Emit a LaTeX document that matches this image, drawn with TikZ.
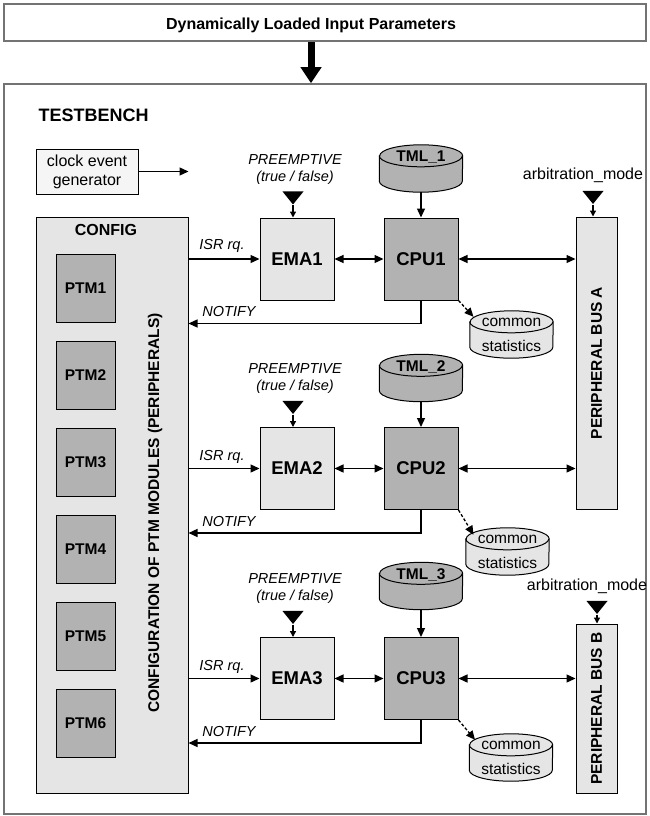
\documentclass[tikz,border=0pt]{standalone}
\usepackage{fontspec}
\setmainfont{Liberation Sans}
\usetikzlibrary{arrows.meta,positioning,shapes.geometric,backgrounds}

% drum outline round a named node: #1 node, #2 fill
\newcommand{\drum}[2]{%
  \filldraw[line width=1pt, fill=#2]
    ([yshift=-11pt]#1.north west) -- ([yshift=11pt]#1.south west)
    arc[start angle=180, end angle=360, x radius=41.5pt, y radius=11pt]
    -- ([yshift=-11pt]#1.north east)
    arc[start angle=0, end angle=180, x radius=41.5pt, y radius=11pt] -- cycle;
  \draw[line width=1pt] ([yshift=-11pt]#1.north west)
    arc[start angle=180, end angle=360, x radius=41.5pt, y radius=11pt];}

\begin{document}
\begin{tikzpicture}[
  x=1pt, y=-1pt,
  >={Triangle[length=9pt,width=8pt]},
  frame/.style={draw=black!55, line width=1.5pt, inner sep=0pt},
  box/.style={draw, line width=1pt, fill=black!10, align=center, inner sep=0pt},
  ema/.style={box, minimum width=74pt, minimum height=82pt, font=\fontsize{18.5}{20}\selectfont\bfseries},
  cpu/.style={ema, fill=black!30},
  ptm/.style={box, fill=black!30, minimum width=59pt, minimum height=68pt, font=\fontsize{15.5}{18}\selectfont\bfseries},
  bus/.style={box, minimum width=41pt},
  db/.style={minimum width=83pt, minimum height=47pt, inner sep=0pt, align=center},
  tml/.style={db, font=\fontsize{15.5}{18}\selectfont\bfseries},
  stat/.style={db, font=\fontsize{15.5}{25}\selectfont},
  tri/.style={isosceles triangle, isosceles triangle stretches, shape border rotate=-90, fill=black, minimum width=21pt, minimum height=13pt, inner sep=0pt},
  note/.style={font=\fontsize{14.5}{17}\selectfont\itshape, align=center},
  plain/.style={font=\fontsize{16}{19}\selectfont, align=center},
  arrow/.style={->, line width=1.3pt},
  dual/.style={<->, line width=1.3pt},
  small/.style={-{Triangle[length=6pt,width=6pt]}, line width=1.3pt},
  hint/.style={->, line width=1.3pt, dash pattern=on 3pt off 2pt},
  big/.style={-{Triangle[length=16pt,width=20pt]}, line width=7pt}
]
\useasboundingbox (0,0) rectangle (650,816);

% input parameters and testbench
\node[frame, minimum width=642pt, minimum height=37pt] (input) at (325,22.5) {};
\node[font=\fontsize{16}{19}\selectfont\bfseries] (title) at (311,25) {Dynamically Loaded Input Parameters};
\node[frame, minimum width=642pt, minimum height=730pt] (bench) at (325,449) {};
\draw[big] (input.south -| title) -- (bench.north -| title);
\node[anchor=west, font=\fontsize{18}{20}\selectfont\bfseries] (tbname) at (35,115) {TESTBENCH};

% clock and config
\node[box, fill=black!4, minimum width=102pt, minimum height=45pt, plain] (clock) at (87,171.5) {clock event\\generator};
\node[box, minimum width=152pt, minimum height=576pt] (config) at (112,505) {};
\draw[arrow] (clock.east) -- (clock.east -| config.east);
\node[font=\fontsize{16}{19}\selectfont\bfseries] (cfgname) at (106,230) {CONFIG};
\node[rotate=90, font=\fontsize{15.5}{18}\selectfont\bfseries] (cfgtext) at (155,513) {CONFIGURATION OF PTM MODULES (PERIPHERALS)};
\node[ptm] (ptm1) at (85.5,288) {PTM1};
\node[ptm] (ptm2) at (85.5,375) {PTM2};
\node[ptm] (ptm3) at (85.5,462) {PTM3};
\node[ptm] (ptm4) at (85.5,549) {PTM4};
\node[ptm] (ptm5) at (85.5,636) {PTM5};
\node[ptm] (ptm6) at (85.5,723) {PTM6};

% peripheral buses
\node[plain] (arbA) at (583,175) {arbitration\_mode};
\node[tri] (triA) at (593,196) {};
\node[bus, minimum height=292pt] (busA) at (596.5,363) {};
\node[rotate=90, font=\fontsize{15.5}{18}\selectfont\bfseries] (busAtext) at (busA) {PERIPHERAL BUS A};
\draw[small] (triA.apex) -- (triA.apex |- busA.north);
\node[plain] (arbB) at (587,586) {arbitration\_mode};
\node[tri] (triB) at (597,606) {};
\node[bus, minimum height=169pt] (busB) at (596.5,708.5) {};
\node[rotate=90, font=\fontsize{15.5}{18}\selectfont\bfseries] (busBtext) at (busB) {PERIPHERAL BUS B};
\draw[small] (triB.apex) -- (triB.apex |- busB.north);

% channel 1
\node[note] (pre1) at (295,170) {PREEMPTIVE\\(true / false)};
\node[tri] (tri1) at (293,196.5) {};
\node[ema] (ema1) at (297,259) {EMA1};
\node[cpu] (cpu1) at (421,259) {CPU1};
\node[tml, text depth=24pt] (tml1) at (421,168.5) {TML\_1};
\node[stat] (stat1) at (511.5,334.5) {common\\statistics};
\draw[small] (tri1.apex) -- (tri1.apex |- ema1.north);
\draw[arrow] (tml1) -- (cpu1);
\draw[dual] (ema1) -- (cpu1);
\draw[dual] (cpu1.east) -- (cpu1.east -| busA.west);
\draw[arrow] (config.east |- ema1.west) -- (ema1.west);
\node[note] (isr1) at (222,246) {ISR rq.};
\coordinate (n1) at ([yshift=-23pt]cpu1.south);
\draw[arrow] (cpu1.south) -- (n1) -- (n1 -| config.east);
\node[note] (notify1) at (229,312) {NOTIFY};
\draw[hint] (cpu1.south east) -- ([xshift=-38pt,yshift=-6pt]stat1.north);

% channel 2
\node[note] (pre2) at (295,379) {PREEMPTIVE\\(true / false)};
\node[tri] (tri2) at (293,406) {};
\node[ema] (ema2) at (297,468.5) {EMA2};
\node[cpu] (cpu2) at (421,468.5) {CPU2};
\node[tml, text depth=24pt] (tml2) at (421,378) {TML\_2};
\node[stat] (stat2) at (507.5,551.5) {common\\statistics};
\draw[small] (tri2.apex) -- (tri2.apex |- ema2.north);
\draw[arrow] (tml2) -- (cpu2);
\draw[dual] (ema2) -- (cpu2);
\draw[dual] (cpu2.east) -- (cpu2.east -| busA.west);
\draw[arrow] (config.east |- ema2.west) -- (ema2.west);
\node[note] (isr2) at (222,457) {ISR rq.};
\coordinate (n2) at ([yshift=-23pt]cpu2.south);
\draw[arrow] (cpu2.south) -- (n2) -- (n2 -| config.east);
\node[note] (notify2) at (229,522) {NOTIFY};
\draw[hint] (cpu2.south east) -- ([xshift=-34pt,yshift=-7pt]stat2.north);

% channel 3
\node[note] (pre3) at (295,589) {PREEMPTIVE\\(true / false)};
\node[tri] (tri3) at (293,616) {};
\node[ema] (ema3) at (297,678.5) {EMA3};
\node[cpu] (cpu3) at (421,678.5) {CPU3};
\node[tml, text depth=24pt] (tml3) at (421,586) {TML\_3};
\node[stat] (stat3) at (511,757.5) {common\\statistics};
\draw[small] (tri3.apex) -- (tri3.apex |- ema3.north);
\draw[arrow] (tml3) -- (cpu3);
\draw[dual] (ema3) -- (cpu3);
\draw[dual] (cpu3.east) -- (cpu3.east -| busB.west);
\draw[arrow] (config.east |- ema3.west) -- (ema3.west);
\node[note] (isr3) at (222,667) {ISR rq.};
\coordinate (n3) at ([yshift=-23pt]cpu3.south);
\draw[arrow] (cpu3.south) -- (n3) -- (n3 -| config.east);
\node[note] (notify3) at (229,731) {NOTIFY};
\draw[hint] (cpu3.south east) -- ([xshift=-36pt,yshift=-6pt]stat3.north);

\begin{scope}[on background layer]
\drum{tml1}{black!30}
\drum{tml2}{black!30}
\drum{tml3}{black!30}
\drum{stat1}{black!10}
\drum{stat2}{black!10}
\drum{stat3}{black!10}
\end{scope}

\end{tikzpicture}
\end{document}
